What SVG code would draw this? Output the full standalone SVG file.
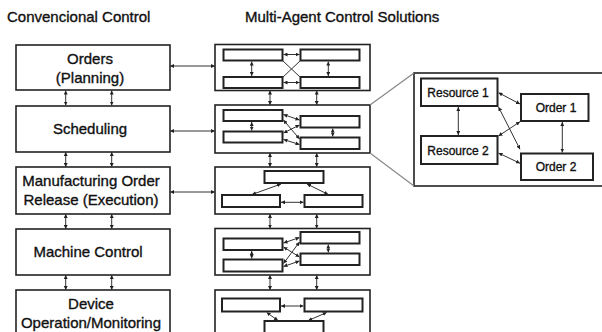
<svg xmlns="http://www.w3.org/2000/svg" width="602" height="332" viewBox="0 0 602 332">
<defs>
<marker id="ah" viewBox="0 0 6 6" refX="6" refY="3" markerWidth="4" markerHeight="4" markerUnits="userSpaceOnUse" orient="auto-start-reverse">
<path d="M0,0 L6,3 L0,6 z" fill="#222"/>
</marker>
</defs>
<style>
.t{font-family:"Liberation Sans",Arial,sans-serif;fill:#111;stroke:#111;stroke-width:0.35}
.title{font-size:15px}
.lbl{font-size:15px;text-anchor:middle}
.sm{font-size:12px;text-anchor:middle}
.box{fill:#fff;stroke:#222;stroke-width:1.6}
.ib{fill:#fff;stroke:#222;stroke-width:2}
.c{stroke:#333;stroke-width:1;fill:none;marker-start:url(#ah);marker-end:url(#ah)}
.p{stroke:#333;stroke-width:1;fill:none}
.z{stroke:#888;stroke-width:1.2;fill:none}
</style>
<rect width="602" height="332" fill="#fff"/>
<text class="t title" x="7" y="22">Convencional Control</text>
<text class="t title" x="245" y="22">Multi-Agent Control Solutions</text>

<g id="left-orders"><rect class="box" x="16" y="45" width="154" height="45"/><text class="t lbl" x="90" y="64">Orders</text><text class="t lbl" x="90" y="83">(Planning)</text></g>
<g id="left-scheduling"><rect class="box" x="16" y="106" width="154" height="46"/><text class="t lbl" x="90" y="134">Scheduling</text></g>
<g id="left-release"><rect class="box" x="16" y="167" width="154" height="47"/><text class="t lbl" x="91" y="186">Manufacturing Order</text><text class="t lbl" x="91" y="205">Release (Execution)</text></g>
<g id="left-machine"><rect class="box" x="16" y="229" width="154" height="46"/><text class="t lbl" x="88" y="257">Machine Control</text></g>
<g id="left-device"><rect class="box" x="16" y="290" width="154" height="50"/><text class="t lbl" x="91" y="309">Device</text><text class="t lbl" x="91" y="328">Operation/Monitoring</text></g>

<g id="mas-1"><rect class="box" x="215" y="44.5" width="155" height="46"/>
<rect class="ib" x="223.5" y="49.5" width="59" height="11"/><rect class="ib" x="300.5" y="49.5" width="59" height="11"/>
<rect class="ib" x="223.5" y="77" width="59" height="11"/><rect class="ib" x="300.5" y="77" width="59" height="11"/></g>
<g id="mas-2"><rect class="box" x="215" y="105" width="155" height="48"/>
<rect class="ib" x="223.5" y="110" width="59" height="11"/><rect class="ib" x="223.5" y="131.5" width="59" height="11"/>
<rect class="ib" x="300.5" y="116" width="59" height="11.5"/><rect class="ib" x="300.5" y="137.5" width="59" height="11.5"/></g>
<g id="mas-3"><rect class="box" x="215" y="167" width="155" height="47"/>
<rect class="ib" x="264.5" y="171" width="59" height="12"/><rect class="ib" x="222" y="195" width="58" height="12"/><rect class="ib" x="304.5" y="195" width="58" height="12"/></g>
<g id="mas-4"><rect class="box" x="215" y="228.5" width="155" height="46.5"/>
<rect class="ib" x="223.5" y="238.5" width="59" height="11.5"/><rect class="ib" x="223.5" y="259.5" width="59" height="12"/>
<rect class="ib" x="300.5" y="232" width="59" height="11.5"/><rect class="ib" x="300.5" y="253.5" width="59" height="11.5"/></g>
<g id="mas-5"><rect class="box" x="215" y="290" width="155" height="50"/>
<rect class="ib" x="222" y="298.5" width="58" height="13"/><rect class="ib" x="304.5" y="298.5" width="58" height="13"/><rect class="ib" x="264.5" y="321" width="59" height="20"/></g>

<g id="detail"><rect class="box" x="414" y="73" width="200" height="113"/>
<g id="resource1"><rect class="ib" x="421" y="78.5" width="76.5" height="27.5"/><text class="t sm" x="458" y="96.5">Resource 1</text></g>
<g id="resource2"><rect class="ib" x="421" y="136" width="76.5" height="28"/><text class="t sm" x="458" y="154.5">Resource 2</text></g>
<g id="order1"><rect class="ib" x="521" y="94" width="67.5" height="27"/><text class="t sm" x="556" y="111.5">Order 1</text></g>
<g id="order2"><rect class="ib" x="521" y="153.5" width="72" height="26.5"/><text class="t sm" x="556" y="171">Order 2</text></g>
</g>

<g id="connectors">
<path class="z" d="M370,105 L414,73 M370,153 L414,186"/>
<path class="c" d="M170,66 H215"/><path class="c" d="M170,131 H215"/><path class="c" d="M170,192 H215"/>
<path class="c" d="M65.7,90.5 V105.5"/><path class="c" d="M111.7,90.5 V105.5"/>
<path class="c" d="M65.7,152 V167"/><path class="c" d="M111.7,152 V167"/>
<path class="c" d="M65.7,214 V229"/><path class="c" d="M111.7,214 V229"/>
<path class="c" d="M65.7,275 V290"/><path class="c" d="M111.7,275 V290"/>
<path class="c" d="M270,90.5 V105"/><path class="c" d="M316.7,90.5 V105"/>
<path class="c" d="M270,153 V167"/><path class="c" d="M316.7,153 V167"/>
<path class="c" d="M270,214 V228.5"/><path class="c" d="M316.7,214 V228.5"/>
<path class="c" d="M270,275 V290"/><path class="c" d="M316.7,275 V290"/>
<path class="c" d="M251.7,61.5 V76"/><path class="c" d="M328.3,61.5 V76"/>
<path class="c" d="M283.5,54.5 H299.5"/><path class="c" d="M283.5,82.5 H299.5"/>
<path class="p" d="M283,61 L300,77 M300,61 L283,77"/>
<path class="c" d="M251.7,122 V130.5"/><path class="c" d="M332.7,128.5 V136.5"/>
<path class="c" d="M283.5,114.5 L299.5,120"/><path class="c" d="M283.5,120 L299.5,139"/>
<path class="c" d="M283.5,133 L299.5,125"/><path class="c" d="M283.5,139.5 L299.5,144.5"/>
<path class="c" d="M281,184 L252,194.5"/><path class="c" d="M307,184 L328.3,194.5"/>
<path class="c" d="M281,202.3 H303.5"/>
<path class="c" d="M251.7,251 V258.5"/><path class="c" d="M328.3,244.5 V252.5"/>
<path class="c" d="M299.5,237.5 L283.5,243"/><path class="c" d="M299.5,242 L283.5,263.5"/>
<path class="c" d="M299.5,257 L283.5,247"/><path class="c" d="M299.5,261 L283.5,266.5"/>
<path class="c" d="M281,306 H303.5"/>
<path class="c" d="M266.7,312.5 L278,320.5"/><path class="c" d="M326.7,312.5 L308.3,320.5"/>
<path class="c" d="M458.3,107 V135"/><path class="c" d="M562.3,122 V152.5"/>
<path class="c" d="M498.5,92.7 L520,104"/><path class="c" d="M498.5,107 L520,149.3"/>
<path class="c" d="M520,121.7 L498.5,136"/><path class="c" d="M498.5,153 L520,163.3"/>
</g>
</svg>
